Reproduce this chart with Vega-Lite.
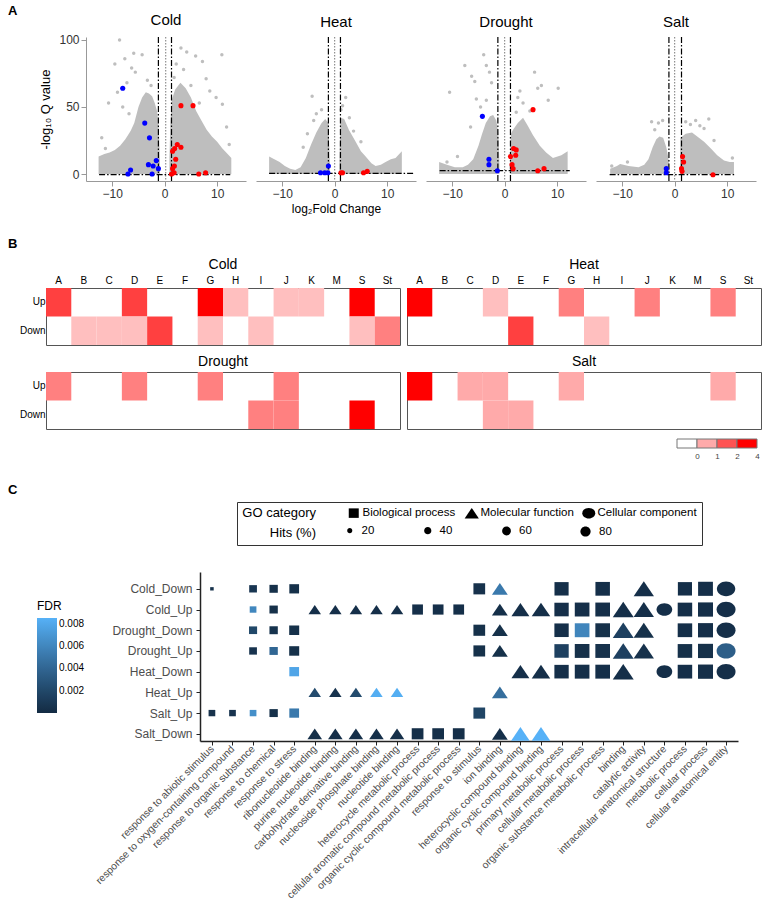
{
"$schema":"https://vega.github.io/schema/vega-lite/v6.json",
"padding":{"left":8,"top":5,"right":5,"bottom":3},
"background":"white",
"config":{"font":"Liberation Sans","view":{"stroke":null},"axis":{"grid":false,"labelFont":"Liberation Sans","titleFont":"Liberation Sans"},"title":{"font":"Liberation Sans","fontWeight":"normal","color":"#000"},"legend":{"labelFont":"Liberation Sans","titleFont":"Liberation Sans"}},
"spacing":24,
"resolve":{"scale":{"color":"independent","size":"independent","shape":"independent"}},
"vconcat":[
{
"spacing":10,
"hconcat":[
{"width":21,"height":1,"title":{"text":"A","anchor":"start","frame":"group","fontSize":13,"fontWeight":"bold","offset":19},"data":{"values":[]},"mark":"point","encoding":{}},
{
"title":{"text":"Cold","fontSize":15,"offset":6},
"width":160,"height":144,
"data":{"values":[
{"k":"c","s":"L","x":-12.6,"y":13},{"k":"c","s":"L","x":-11.5,"y":15},{"k":"c","s":"L","x":-10.5,"y":16},{"k":"c","s":"L","x":-9.5,"y":18},{"k":"c","s":"L","x":-8.5,"y":21},{"k":"c","s":"L","x":-7.5,"y":26},{"k":"c","s":"L","x":-6.5,"y":32},{"k":"c","s":"L","x":-5.8,"y":38},{"k":"c","s":"L","x":-5,"y":50},{"k":"c","s":"L","x":-4.3,"y":57},{"k":"c","s":"L","x":-3.6,"y":61},{"k":"c","s":"L","x":-3,"y":60},{"k":"c","s":"L","x":-2.4,"y":58},{"k":"c","s":"L","x":-1.9,"y":53},{"k":"c","s":"L","x":-1.4,"y":46},{"k":"c","s":"L","x":-1.1,"y":32},{"k":"c","s":"L","x":-0.9,"y":10},
{"k":"c","s":"R","x":0.9,"y":12},{"k":"c","s":"R","x":1.1,"y":40},{"k":"c","s":"R","x":1.4,"y":56},{"k":"c","s":"R","x":2,"y":63},{"k":"c","s":"R","x":3,"y":68},{"k":"c","s":"R","x":4,"y":64},{"k":"c","s":"R","x":5,"y":57},{"k":"c","s":"R","x":6,"y":47},{"k":"c","s":"R","x":7,"y":40},{"k":"c","s":"R","x":8,"y":33},{"k":"c","s":"R","x":9,"y":28},{"k":"c","s":"R","x":10,"y":24},{"k":"c","s":"R","x":11,"y":19},{"k":"c","s":"R","x":12,"y":15},{"k":"c","s":"R","x":12.7,"y":12},
{"k":"g","x":-9.5,"y":82},{"k":"g","x":-8.6,"y":100},{"k":"g","x":-7.6,"y":86},{"k":"g","x":-5.9,"y":90},{"k":"g","x":-4.3,"y":89},{"k":"g","x":-6.3,"y":79},{"k":"g","x":-5.6,"y":76},{"k":"g","x":-7.2,"y":68},{"k":"g","x":-9,"y":61},{"k":"g","x":-10.7,"y":53},{"k":"g","x":-12,"y":27},{"k":"g","x":-11.3,"y":19},{"k":"g","x":-8,"y":50},{"k":"g","x":-6.8,"y":45},{"k":"g","x":-2.6,"y":66},{"k":"g","x":-3.3,"y":70},{"k":"g","x":3.1,"y":94},{"k":"g","x":4.2,"y":91},{"k":"g","x":5.9,"y":88},{"k":"g","x":7.2,"y":84},{"k":"g","x":10.9,"y":89},{"k":"g","x":7.9,"y":71},{"k":"g","x":9.8,"y":57},{"k":"g","x":11,"y":52},{"k":"g","x":5,"y":66},{"k":"g","x":6.6,"y":53},{"k":"g","x":2.2,"y":82},{"k":"g","x":3.6,"y":78},{"k":"g","x":1.8,"y":72},{"k":"g","x":8.6,"y":62},{"k":"g","x":11.8,"y":35},{"k":"g","x":12.3,"y":22},
{"k":"d","x":-8,"y":64},{"k":"d","x":-3.8,"y":38},{"k":"d","x":-2.9,"y":27},{"k":"d","x":-3.1,"y":7},{"k":"d","x":-2.2,"y":6},{"k":"d","x":-1.6,"y":10},{"k":"d","x":-1.2,"y":4},{"k":"d","x":-6.5,"y":3},{"k":"d","x":-7,"y":0},{"k":"d","x":-2.4,"y":0},
{"k":"u","x":3.1,"y":51},{"k":"u","x":5.4,"y":51},{"k":"u","x":2.4,"y":22},{"k":"u","x":3.1,"y":20},{"k":"u","x":1.9,"y":19},{"k":"u","x":1.5,"y":17},{"k":"u","x":2.1,"y":11},{"k":"u","x":1.85,"y":6},{"k":"u","x":1.5,"y":4},{"k":"u","x":1.8,"y":1},{"k":"u","x":1.3,"y":0},{"k":"u","x":6.5,"y":0},{"k":"u","x":7.8,"y":1}
]},
"layer":[
{"transform":[{"filter":"datum.k=='c'"}],"mark":{"type":"area","color":"#BEBEBE"},"encoding":{"x":{"field":"x","type":"quantitative","scale":{"domain":[-15,15.5],"nice":false,"zero":false},"axis":{"values":[-10,-5,0,5,10],"title":null,"labelFontSize":12,"labelColor":"#333","domainColor":"#999","tickColor":"#999","tickSize":5,"labelPadding":2}},"y":{"field":"y","type":"quantitative","scale":{"domain":[-5.2,102.2],"nice":false,"zero":false},"axis":{"values":[0,50,100],"title":"-log₁₀ Q value","titleFontSize":13,"titleFontWeight":"normal","labelFontSize":12,"labelColor":"#333","domainColor":"#999","tickColor":"#999","tickSize":5,"titlePadding":6}},"y2":{"datum":0},"detail":{"field":"s"}}},
{"transform":[{"filter":"datum.k=='g'"}],"mark":{"type":"circle","color":"#BEBEBE","size":12,"opacity":1},"encoding":{"x":{"field":"x","type":"quantitative","scale":{"domain":[-15,15.5],"nice":false,"zero":false},"axis":{"values":[-10,-5,0,5,10],"title":null,"labelFontSize":12,"labelColor":"#333","domainColor":"#999","tickColor":"#999","tickSize":5,"labelPadding":2}},"y":{"field":"y","type":"quantitative","scale":{"domain":[-5.2,102.2],"nice":false,"zero":false},"axis":{"values":[0,50,100],"title":"-log₁₀ Q value","titleFontSize":13,"titleFontWeight":"normal","labelFontSize":12,"labelColor":"#333","domainColor":"#999","tickColor":"#999","tickSize":5,"titlePadding":6}}}},
{"data":{"values":[{"v":-1.2},{"v":1.3}]},"mark":{"type":"rule","color":"#000","strokeWidth":1.2,"strokeDash":[6,2,1.5,2]},"encoding":{"x":{"field":"v","type":"quantitative"}}},
{"data":{"values":[{"v":0.2}]},"mark":{"type":"rule","color":"#777","strokeWidth":1,"strokeDash":[1.5,1.5]},"encoding":{"x":{"field":"v","type":"quantitative"}}},
{"data":{"values":[{"a":-12.5,"b":12.5,"t":-0.5}]},"mark":{"type":"rule","color":"#000","strokeWidth":1.2,"strokeDash":[6,2,1.5,2]},"encoding":{"x":{"field":"a","type":"quantitative"},"x2":{"field":"b"},"y":{"field":"t","type":"quantitative"}}},
{"transform":[{"filter":"datum.k=='d'"}],"mark":{"type":"circle","color":"#0000FF","size":26,"opacity":1},"encoding":{"x":{"field":"x","type":"quantitative"},"y":{"field":"y","type":"quantitative"}}},
{"transform":[{"filter":"datum.k=='u'"}],"mark":{"type":"circle","color":"#FF0000","size":26,"opacity":1},"encoding":{"x":{"field":"x","type":"quantitative"},"y":{"field":"y","type":"quantitative"}}}
]
},
{
"title":{"text":"Heat","fontSize":15,"offset":6},
"width":160,"height":144,
"data":{"values":[
{"k":"c","s":"L","x":-12.5,"y":13},{"k":"c","s":"L","x":-11.5,"y":11},{"k":"c","s":"L","x":-10.5,"y":9},{"k":"c","s":"L","x":-9.5,"y":6},{"k":"c","s":"L","x":-8.5,"y":4},{"k":"c","s":"L","x":-7.5,"y":3},{"k":"c","s":"L","x":-6.5,"y":5},{"k":"c","s":"L","x":-5.5,"y":12},{"k":"c","s":"L","x":-4.5,"y":22},{"k":"c","s":"L","x":-3.5,"y":31},{"k":"c","s":"L","x":-2.5,"y":38},{"k":"c","s":"L","x":-1.8,"y":41},{"k":"c","s":"L","x":-1.2,"y":38},{"k":"c","s":"L","x":-0.9,"y":8},
{"k":"c","s":"R","x":0.9,"y":10},{"k":"c","s":"R","x":1.1,"y":42},{"k":"c","s":"R","x":1.8,"y":41},{"k":"c","s":"R","x":2.7,"y":33},{"k":"c","s":"R","x":4,"y":24},{"k":"c","s":"R","x":5,"y":17},{"k":"c","s":"R","x":5.9,"y":13},{"k":"c","s":"R","x":7,"y":8},{"k":"c","s":"R","x":7.8,"y":6},{"k":"c","s":"R","x":8.8,"y":7},{"k":"c","s":"R","x":9.7,"y":9},{"k":"c","s":"R","x":10.7,"y":11},{"k":"c","s":"R","x":11.6,"y":12},{"k":"c","s":"R","x":12.8,"y":17},
{"k":"g","x":-4.3,"y":58},{"k":"g","x":-3.5,"y":45},{"k":"g","x":-2.5,"y":48},{"k":"g","x":-4,"y":40},{"k":"g","x":1.5,"y":51},{"k":"g","x":2.1,"y":57},{"k":"g","x":2.8,"y":42},{"k":"g","x":1.2,"y":48},{"k":"g","x":-5.2,"y":30},{"k":"g","x":3.6,"y":32},{"k":"g","x":-6,"y":20},{"k":"g","x":5,"y":24},
{"k":"d","x":-2.7,"y":1},{"k":"d","x":-1.9,"y":1},{"k":"d","x":-1.2,"y":6},{"k":"d","x":-1.3,"y":1},
{"k":"u","x":1.2,"y":1},{"k":"u","x":1.5,"y":1},{"k":"u","x":5.5,"y":1},{"k":"u","x":6.2,"y":2}
]},
"layer":[
{"transform":[{"filter":"datum.k=='c'"}],"mark":{"type":"area","color":"#BEBEBE"},"encoding":{"x":{"field":"x","type":"quantitative","scale":{"domain":[-15,15.5],"nice":false,"zero":false},"axis":{"values":[-10,-5,0,5,10],"title":"log₂Fold Change","titleFontSize":12,"titleFontWeight":"normal","titlePadding":4,"labelFontSize":12,"labelColor":"#333","domainColor":"#999","tickColor":"#999","tickSize":5,"labelPadding":2}},"y":{"field":"y","type":"quantitative","scale":{"domain":[-5.2,102.2],"nice":false,"zero":false},"axis":null},"y2":{"datum":0},"detail":{"field":"s"}}},
{"transform":[{"filter":"datum.k=='g'"}],"mark":{"type":"circle","color":"#BEBEBE","size":12,"opacity":1},"encoding":{"x":{"field":"x","type":"quantitative","scale":{"domain":[-15,15.5],"nice":false,"zero":false},"axis":{"values":[-10,-5,0,5,10],"title":"log₂Fold Change","titleFontSize":12,"titleFontWeight":"normal","titlePadding":4,"labelFontSize":12,"labelColor":"#333","domainColor":"#999","tickColor":"#999","tickSize":5,"labelPadding":2}},"y":{"field":"y","type":"quantitative","axis":null}}},
{"data":{"values":[{"v":-1.2},{"v":1.1}]},"mark":{"type":"rule","color":"#000","strokeWidth":1.2,"strokeDash":[6,2,1.5,2]},"encoding":{"x":{"field":"v","type":"quantitative"}}},
{"data":{"values":[{"v":0}]},"mark":{"type":"rule","color":"#777","strokeWidth":1,"strokeDash":[1.5,1.5]},"encoding":{"x":{"field":"v","type":"quantitative"}}},
{"data":{"values":[{"a":-12.5,"b":15,"t":0.5}]},"mark":{"type":"rule","color":"#000","strokeWidth":1.2,"strokeDash":[6,2,1.5,2]},"encoding":{"x":{"field":"a","type":"quantitative"},"x2":{"field":"b"},"y":{"field":"t","type":"quantitative","axis":null}}},
{"transform":[{"filter":"datum.k=='d'"}],"mark":{"type":"circle","color":"#0000FF","size":26,"opacity":1},"encoding":{"x":{"field":"x","type":"quantitative"},"y":{"field":"y","type":"quantitative","axis":null}}},
{"transform":[{"filter":"datum.k=='u'"}],"mark":{"type":"circle","color":"#FF0000","size":26,"opacity":1},"encoding":{"x":{"field":"x","type":"quantitative"},"y":{"field":"y","type":"quantitative","axis":null}}}
]
},
{
"title":{"text":"Drought","fontSize":15,"offset":6},
"width":160,"height":144,
"data":{"values":[
{"k":"c","s":"L","x":-12.5,"y":9},{"k":"c","s":"L","x":-11,"y":7},{"k":"c","s":"L","x":-9.5,"y":5},{"k":"c","s":"L","x":-8,"y":5},{"k":"c","s":"L","x":-7,"y":7},{"k":"c","s":"L","x":-6,"y":11},{"k":"c","s":"L","x":-5,"y":21},{"k":"c","s":"L","x":-4.3,"y":30},{"k":"c","s":"L","x":-3.6,"y":38},{"k":"c","s":"L","x":-2.8,"y":43},{"k":"c","s":"L","x":-2.2,"y":44},{"k":"c","s":"L","x":-1.6,"y":40},{"k":"c","s":"L","x":-1.2,"y":30},{"k":"c","s":"L","x":-1,"y":8},
{"k":"c","s":"R","x":1,"y":10},{"k":"c","s":"R","x":1.2,"y":30},{"k":"c","s":"R","x":1.6,"y":33},{"k":"c","s":"R","x":2.5,"y":38},{"k":"c","s":"R","x":3.5,"y":42},{"k":"c","s":"R","x":4.4,"y":36},{"k":"c","s":"R","x":5.4,"y":29},{"k":"c","s":"R","x":6.7,"y":21},{"k":"c","s":"R","x":7.9,"y":16},{"k":"c","s":"R","x":9.2,"y":12},{"k":"c","s":"R","x":10.8,"y":14},{"k":"c","s":"R","x":12,"y":17},
{"k":"g","x":-4,"y":89},{"k":"g","x":-3.5,"y":81},{"k":"g","x":-7.6,"y":81},{"k":"g","x":-6.3,"y":73},{"k":"g","x":-5.7,"y":69},{"k":"g","x":-10.5,"y":61},{"k":"g","x":-2.9,"y":76},{"k":"g","x":-2.5,"y":68},{"k":"g","x":5.7,"y":76},{"k":"g","x":7,"y":66},{"k":"g","x":6.3,"y":64},{"k":"g","x":10.2,"y":64},{"k":"g","x":8.3,"y":55},{"k":"g","x":2.9,"y":62},{"k":"g","x":3.5,"y":53},{"k":"g","x":2.5,"y":57},{"k":"g","x":2.2,"y":46},{"k":"g","x":-5.4,"y":56},{"k":"g","x":-3.5,"y":55},{"k":"g","x":-4.6,"y":50},{"k":"g","x":4.8,"y":47},{"k":"g","x":-6.5,"y":35},{"k":"g","x":-9,"y":13},{"k":"g","x":-11,"y":9},
{"k":"d","x":-4.25,"y":43},{"k":"d","x":-3,"y":11},{"k":"d","x":-3,"y":7},{"k":"d","x":-1.4,"y":2.5},
{"k":"u","x":5.4,"y":48},{"k":"u","x":1.7,"y":19},{"k":"u","x":2.2,"y":18},{"k":"u","x":2.1,"y":14},{"k":"u","x":1.1,"y":13},{"k":"u","x":1.4,"y":7},{"k":"u","x":1.6,"y":4},{"k":"u","x":6.3,"y":2.5},{"k":"u","x":7.5,"y":4}
]},
"layer":[
{"transform":[{"filter":"datum.k=='c'"}],"mark":{"type":"area","color":"#BEBEBE"},"encoding":{"x":{"field":"x","type":"quantitative","scale":{"domain":[-15,15.5],"nice":false,"zero":false},"axis":{"values":[-10,-5,0,5,10],"title":null,"labelFontSize":12,"labelColor":"#333","domainColor":"#999","tickColor":"#999","tickSize":5,"labelPadding":2}},"y":{"field":"y","type":"quantitative","scale":{"domain":[-5.2,102.2],"nice":false,"zero":false},"axis":null},"y2":{"datum":0},"detail":{"field":"s"}}},
{"transform":[{"filter":"datum.k=='g'"}],"mark":{"type":"circle","color":"#BEBEBE","size":12,"opacity":1},"encoding":{"x":{"field":"x","type":"quantitative","axis":{"values":[-10,-5,0,5,10],"title":null,"labelFontSize":12,"labelColor":"#333","domainColor":"#999","tickColor":"#999","tickSize":5,"labelPadding":2}},"y":{"field":"y","type":"quantitative","axis":null}}},
{"data":{"values":[{"v":-1.3},{"v":1.1}]},"mark":{"type":"rule","color":"#000","strokeWidth":1.2,"strokeDash":[6,2,1.5,2]},"encoding":{"x":{"field":"v","type":"quantitative"}}},
{"data":{"values":[{"v":0}]},"mark":{"type":"rule","color":"#777","strokeWidth":1,"strokeDash":[1.5,1.5]},"encoding":{"x":{"field":"v","type":"quantitative"}}},
{"data":{"values":[{"a":-12.4,"b":12.4,"t":2.5}]},"mark":{"type":"rule","color":"#000","strokeWidth":1.2,"strokeDash":[6,2,1.5,2]},"encoding":{"x":{"field":"a","type":"quantitative"},"x2":{"field":"b"},"y":{"field":"t","type":"quantitative","axis":null}}},
{"transform":[{"filter":"datum.k=='d'"}],"mark":{"type":"circle","color":"#0000FF","size":26,"opacity":1},"encoding":{"x":{"field":"x","type":"quantitative"},"y":{"field":"y","type":"quantitative","axis":null}}},
{"transform":[{"filter":"datum.k=='u'"}],"mark":{"type":"circle","color":"#FF0000","size":26,"opacity":1},"encoding":{"x":{"field":"x","type":"quantitative"},"y":{"field":"y","type":"quantitative","axis":null}}}
]
},
{
"title":{"text":"Salt","fontSize":15,"offset":6},
"width":160,"height":144,
"data":{"values":[
{"k":"c","s":"L","x":-12.3,"y":4},{"k":"c","s":"L","x":-11,"y":6},{"k":"c","s":"L","x":-10.4,"y":7.5},{"k":"c","s":"L","x":-8.8,"y":6},{"k":"c","s":"L","x":-6.9,"y":5},{"k":"c","s":"L","x":-5.8,"y":7},{"k":"c","s":"L","x":-5,"y":11},{"k":"c","s":"L","x":-4.2,"y":20},{"k":"c","s":"L","x":-3.5,"y":26},{"k":"c","s":"L","x":-2.9,"y":28},{"k":"c","s":"L","x":-2.2,"y":27},{"k":"c","s":"L","x":-1.6,"y":20},{"k":"c","s":"L","x":-1.2,"y":12},{"k":"c","s":"L","x":-1,"y":3},
{"k":"c","s":"R","x":1,"y":5},{"k":"c","s":"R","x":1.1,"y":27},{"k":"c","s":"R","x":2.1,"y":30},{"k":"c","s":"R","x":3.3,"y":31},{"k":"c","s":"R","x":4.3,"y":28},{"k":"c","s":"R","x":5.6,"y":24},{"k":"c","s":"R","x":6.9,"y":19},{"k":"c","s":"R","x":8.1,"y":14},{"k":"c","s":"R","x":9.4,"y":10},{"k":"c","s":"R","x":10.5,"y":9},{"k":"c","s":"R","x":11.3,"y":9},
{"k":"g","x":-4.4,"y":39},{"k":"g","x":-3.1,"y":38},{"k":"g","x":-2.3,"y":40},{"k":"g","x":-3.8,"y":33},{"k":"g","x":2.1,"y":39},{"k":"g","x":3,"y":37},{"k":"g","x":4,"y":40},{"k":"g","x":6.5,"y":41},{"k":"g","x":5.6,"y":34},{"k":"g","x":4.8,"y":36},{"k":"g","x":7.5,"y":25},{"k":"g","x":-9,"y":9},{"k":"g","x":-12,"y":6},{"k":"g","x":11,"y":12},
{"k":"d","x":-1.6,"y":4},{"k":"d","x":-1.6,"y":1},
{"k":"u","x":1.5,"y":13},{"k":"u","x":1.7,"y":9},{"k":"u","x":1.3,"y":4},{"k":"u","x":1.4,"y":2},{"k":"u","x":7.3,"y":-0.5}
]},
"layer":[
{"transform":[{"filter":"datum.k=='c'"}],"mark":{"type":"area","color":"#BEBEBE"},"encoding":{"x":{"field":"x","type":"quantitative","scale":{"domain":[-15,15.5],"nice":false,"zero":false},"axis":{"values":[-10,-5,0,5,10],"title":null,"labelFontSize":12,"labelColor":"#333","domainColor":"#999","tickColor":"#999","tickSize":5,"labelPadding":2}},"y":{"field":"y","type":"quantitative","scale":{"domain":[-5.2,102.2],"nice":false,"zero":false},"axis":null},"y2":{"datum":0},"detail":{"field":"s"}}},
{"transform":[{"filter":"datum.k=='g'"}],"mark":{"type":"circle","color":"#BEBEBE","size":12,"opacity":1},"encoding":{"x":{"field":"x","type":"quantitative","axis":{"values":[-10,-5,0,5,10],"title":null,"labelFontSize":12,"labelColor":"#333","domainColor":"#999","tickColor":"#999","tickSize":5,"labelPadding":2}},"y":{"field":"y","type":"quantitative","axis":null}}},
{"data":{"values":[{"v":-1.1},{"v":1.3}]},"mark":{"type":"rule","color":"#000","strokeWidth":1.2,"strokeDash":[6,2,1.5,2]},"encoding":{"x":{"field":"v","type":"quantitative"}}},
{"data":{"values":[{"v":0}]},"mark":{"type":"rule","color":"#777","strokeWidth":1,"strokeDash":[1.5,1.5]},"encoding":{"x":{"field":"v","type":"quantitative"}}},
{"data":{"values":[{"a":-12.4,"b":11.7,"t":-0.5}]},"mark":{"type":"rule","color":"#000","strokeWidth":1.2,"strokeDash":[6,2,1.5,2]},"encoding":{"x":{"field":"a","type":"quantitative"},"x2":{"field":"b"},"y":{"field":"t","type":"quantitative","axis":null}}},
{"transform":[{"filter":"datum.k=='d'"}],"mark":{"type":"circle","color":"#0000FF","size":26,"opacity":1},"encoding":{"x":{"field":"x","type":"quantitative"},"y":{"field":"y","type":"quantitative","axis":null}}},
{"transform":[{"filter":"datum.k=='u'"}],"mark":{"type":"circle","color":"#FF0000","size":26,"opacity":1},"encoding":{"x":{"field":"x","type":"quantitative"},"y":{"field":"y","type":"quantitative","axis":null}}}
]
}
]
},
{
"spacing":0,
"hconcat":[
{"width":1,"height":1,"title":{"text":"B","anchor":"start","frame":"group","fontSize":13,"fontWeight":"bold","offset":37},"data":{"values":[]},"mark":"point","encoding":{}},
{"spacing":8,
"vconcat":[
{"spacing":5,"hconcat":[
{"title":{"text":"Cold","fontSize":14,"offset":3},"width":354,"height":57,"view":{"stroke":"#555","strokeWidth":1},
"data":{"values":[{"cls":"A","dir":"Up","v":3},{"cls":"D","dir":"Up","v":3},{"cls":"G","dir":"Up","v":4},{"cls":"H","dir":"Up","v":1},{"cls":"J","dir":"Up","v":1},{"cls":"K","dir":"Up","v":1},{"cls":"S","dir":"Up","v":4},{"cls":"B","dir":"Down","v":1},{"cls":"C","dir":"Down","v":1},{"cls":"D","dir":"Down","v":1},{"cls":"E","dir":"Down","v":3},{"cls":"G","dir":"Down","v":1},{"cls":"I","dir":"Down","v":1},{"cls":"S","dir":"Down","v":1},{"cls":"St","dir":"Down","v":2}]},
"mark":{"type":"rect"},
"encoding":{"x":{"field":"cls","type":"nominal","scale":{"domain":["A","B","C","D","E","F","G","H","I","J","K","M","S","St"],"paddingInner":0,"paddingOuter":0},"axis":{"orient":"top","title":null,"labelAngle":0,"ticks":false,"domain":false,"labelFontSize":10,"labelColor":"#000","labelPadding":3}},
"y":{"field":"dir","type":"nominal","scale":{"domain":["Up","Down"],"paddingInner":0,"paddingOuter":0},"axis":{"title":null,"ticks":false,"domain":false,"labelFontSize":10,"labelColor":"#000","labelPadding":1}},
"color":{"field":"v","type":"quantitative","scale":{"domain":[0,4],"range":["#FFFFFF","#FF0000"],"interpolate":"rgb","nice":false,"zero":false},"legend":null}}},
{"title":{"text":"Heat","fontSize":14,"offset":3},"width":354,"height":57,"view":{"stroke":"#555","strokeWidth":1},
"data":{"values":[{"cls":"A","dir":"Up","v":4},{"cls":"D","dir":"Up","v":1},{"cls":"G","dir":"Up","v":2},{"cls":"J","dir":"Up","v":2},{"cls":"S","dir":"Up","v":2},{"cls":"E","dir":"Down","v":3},{"cls":"H","dir":"Down","v":1}]},
"mark":{"type":"rect"},
"encoding":{"x":{"field":"cls","type":"nominal","scale":{"domain":["A","B","C","D","E","F","G","H","I","J","K","M","S","St"],"paddingInner":0,"paddingOuter":0},"axis":{"orient":"top","title":null,"labelAngle":0,"ticks":false,"domain":false,"labelFontSize":10,"labelColor":"#000","labelPadding":3}},
"y":{"field":"dir","type":"nominal","scale":{"domain":["Up","Down"],"paddingInner":0,"paddingOuter":0},"axis":null},
"color":{"field":"v","type":"quantitative","scale":{"domain":[0,4],"range":["#FFFFFF","#FF0000"],"interpolate":"rgb","nice":false,"zero":false},"legend":null}}}
]},
{"spacing":5,"hconcat":[
{"title":{"text":"Drought","fontSize":14,"offset":3},"width":354,"height":57,"view":{"stroke":"#555","strokeWidth":1},
"data":{"values":[{"cls":"A","dir":"Up","v":2},{"cls":"D","dir":"Up","v":2},{"cls":"G","dir":"Up","v":2},{"cls":"J","dir":"Up","v":2},{"cls":"I","dir":"Down","v":2},{"cls":"J","dir":"Down","v":2},{"cls":"S","dir":"Down","v":4}]},
"mark":{"type":"rect"},
"encoding":{"x":{"field":"cls","type":"nominal","scale":{"domain":["A","B","C","D","E","F","G","H","I","J","K","M","S","St"],"paddingInner":0,"paddingOuter":0},"axis":null},
"y":{"field":"dir","type":"nominal","scale":{"domain":["Up","Down"],"paddingInner":0,"paddingOuter":0},"axis":{"title":null,"ticks":false,"domain":false,"labelFontSize":10,"labelColor":"#000","labelPadding":1}},
"color":{"field":"v","type":"quantitative","scale":{"domain":[0,4],"range":["#FFFFFF","#FF0000"],"interpolate":"rgb","nice":false,"zero":false},"legend":null}}},
{"spacing":8,"vconcat":[
{"title":{"text":"Salt","fontSize":14,"offset":3},"width":354,"height":57,"view":{"stroke":"#555","strokeWidth":1},
"data":{"values":[{"cls":"A","dir":"Up","v":4},{"cls":"C","dir":"Up","v":1.33},{"cls":"D","dir":"Up","v":1.33},{"cls":"G","dir":"Up","v":1.33},{"cls":"S","dir":"Up","v":1.33},{"cls":"D","dir":"Down","v":1.33},{"cls":"E","dir":"Down","v":1.33}]},
"mark":{"type":"rect"},
"encoding":{"x":{"field":"cls","type":"nominal","scale":{"domain":["A","B","C","D","E","F","G","H","I","J","K","M","S","St"],"paddingInner":0,"paddingOuter":0},"axis":null},
"y":{"field":"dir","type":"nominal","scale":{"domain":["Up","Down"],"paddingInner":0,"paddingOuter":0},"axis":null},
"color":{"field":"v","type":"quantitative","scale":{"domain":[0,4],"range":["#FFFFFF","#FF0000"],"interpolate":"rgb","nice":false,"zero":false},"legend":null}}},
{"width":354,"height":9,"view":{"stroke":null},
"data":{"values":[{"lo":0,"hi":1,"v":0},{"lo":1,"hi":2,"v":1.33},{"lo":2,"hi":3,"v":2.7},{"lo":3,"hi":4,"v":4}]},
"mark":{"type":"rect","stroke":"#777","strokeWidth":1},
"encoding":{"x":{"field":"lo","type":"quantitative","scale":{"domain":[-13.5,4.2],"nice":false,"zero":false},"axis":{"values":[1,2,3,4],"labelExpr":"datum.value == 4 ? '4' : format(datum.value - 1, 'd')","title":null,"domain":false,"ticks":false,"labelFontSize":8,"labelColor":"#444","labelPadding":4}},
"x2":{"field":"hi"},
"color":{"field":"v","type":"quantitative","scale":{"domain":[0,4],"range":["#FFFFFF","#FF0000"],"interpolate":"rgb","nice":false,"zero":false},"legend":null}}}
]}
]}
]}
]
},
{
"spacing":10,
"hconcat":[
{"width":75,"height":1,"title":{"text":"C","anchor":"start","frame":"group","fontSize":13,"fontWeight":"bold","offset":75},"data":{"values":[]},"mark":"point","encoding":{}},
{
"width":538,"height":169,
"data":{"values":[
{"g":"Cold_Down","t":"response to abiotic stimulus","c":"Biological process","h":5,"f":0.0005},
{"g":"Cold_Down","t":"response to organic substance","c":"Biological process","h":24,"f":0.0008},
{"g":"Cold_Down","t":"response to chemical","c":"Biological process","h":28,"f":0.0004},
{"g":"Cold_Down","t":"response to stress","c":"Biological process","h":38,"f":0.0004},
{"g":"Cold_Down","t":"response to stimulus","c":"Biological process","h":55,"f":0.0005},
{"g":"Cold_Down","t":"ion binding","c":"Molecular function","h":50,"f":0.0052},
{"g":"Cold_Down","t":"primary metabolic process","c":"Biological process","h":80,"f":0.0003},
{"g":"Cold_Down","t":"organic substance metabolic process","c":"Biological process","h":84,"f":0.0003},
{"g":"Cold_Down","t":"catalytic activity","c":"Molecular function","h":82,"f":0.0003},
{"g":"Cold_Down","t":"metabolic process","c":"Biological process","h":80,"f":0.0003},
{"g":"Cold_Down","t":"cellular process","c":"Biological process","h":88,"f":0.0003},
{"g":"Cold_Down","t":"cellular anatomical entity","c":"Cellular component","h":80,"f":0.0003},
{"g":"Cold_Up","t":"response to organic substance","c":"Biological process","h":18,"f":0.006},
{"g":"Cold_Up","t":"response to chemical","c":"Biological process","h":28,"f":0.0004},
{"g":"Cold_Up","t":"ribonucleotide binding","c":"Molecular function","h":31,"f":0.0003},
{"g":"Cold_Up","t":"purine nucleotide binding","c":"Molecular function","h":31,"f":0.0003},
{"g":"Cold_Up","t":"carbohydrate derivative binding","c":"Molecular function","h":31,"f":0.0003},
{"g":"Cold_Up","t":"nucleoside phosphate binding","c":"Molecular function","h":31,"f":0.0003},
{"g":"Cold_Up","t":"nucleotide binding","c":"Molecular function","h":31,"f":0.0003},
{"g":"Cold_Up","t":"heterocycle metabolic process","c":"Biological process","h":46,"f":0.0003},
{"g":"Cold_Up","t":"cellular aromatic compound metabolic process","c":"Biological process","h":46,"f":0.0003},
{"g":"Cold_Up","t":"organic cyclic compound metabolic process","c":"Biological process","h":46,"f":0.0003},
{"g":"Cold_Up","t":"ion binding","c":"Molecular function","h":50,"f":0.0003},
{"g":"Cold_Up","t":"heterocyclic compound binding","c":"Molecular function","h":64,"f":0.0003},
{"g":"Cold_Up","t":"organic cyclic compound binding","c":"Molecular function","h":68,"f":0.0003},
{"g":"Cold_Up","t":"primary metabolic process","c":"Biological process","h":82,"f":0.0003},
{"g":"Cold_Up","t":"cellular metabolic process","c":"Biological process","h":86,"f":0.0003},
{"g":"Cold_Up","t":"organic substance metabolic process","c":"Biological process","h":86,"f":0.0003},
{"g":"Cold_Up","t":"binding","c":"Molecular function","h":87,"f":0.0003},
{"g":"Cold_Up","t":"catalytic activity","c":"Molecular function","h":82,"f":0.0003},
{"g":"Cold_Up","t":"intracellular anatomical structure","c":"Cellular component","h":58,"f":0.0003},
{"g":"Cold_Up","t":"metabolic process","c":"Biological process","h":84,"f":0.0003},
{"g":"Cold_Up","t":"cellular process","c":"Biological process","h":90,"f":0.0003},
{"g":"Cold_Up","t":"cellular anatomical entity","c":"Cellular component","h":85,"f":0.0003},
{"g":"Drought_Down","t":"response to organic substance","c":"Biological process","h":26,"f":0.002},
{"g":"Drought_Down","t":"response to chemical","c":"Biological process","h":28,"f":0.0006},
{"g":"Drought_Down","t":"response to stress","c":"Biological process","h":40,"f":0.0004},
{"g":"Drought_Down","t":"response to stimulus","c":"Biological process","h":55,"f":0.0004},
{"g":"Drought_Down","t":"ion binding","c":"Molecular function","h":50,"f":0.0004},
{"g":"Drought_Down","t":"primary metabolic process","c":"Biological process","h":82,"f":0.0003},
{"g":"Drought_Down","t":"cellular metabolic process","c":"Biological process","h":86,"f":0.0059},
{"g":"Drought_Down","t":"organic substance metabolic process","c":"Biological process","h":86,"f":0.0004},
{"g":"Drought_Down","t":"binding","c":"Molecular function","h":87,"f":0.0015},
{"g":"Drought_Down","t":"catalytic activity","c":"Molecular function","h":82,"f":0.0004},
{"g":"Drought_Down","t":"metabolic process","c":"Biological process","h":84,"f":0.0003},
{"g":"Drought_Down","t":"cellular process","c":"Biological process","h":90,"f":0.0003},
{"g":"Drought_Down","t":"cellular anatomical entity","c":"Cellular component","h":85,"f":0.0003},
{"g":"Drought_Up","t":"response to organic substance","c":"Biological process","h":24,"f":0.0006},
{"g":"Drought_Up","t":"response to chemical","c":"Biological process","h":28,"f":0.004},
{"g":"Drought_Up","t":"response to stress","c":"Biological process","h":40,"f":0.0004},
{"g":"Drought_Up","t":"response to stimulus","c":"Biological process","h":55,"f":0.0004},
{"g":"Drought_Up","t":"ion binding","c":"Molecular function","h":50,"f":0.0004},
{"g":"Drought_Up","t":"primary metabolic process","c":"Biological process","h":82,"f":0.0015},
{"g":"Drought_Up","t":"cellular metabolic process","c":"Biological process","h":86,"f":0.0004},
{"g":"Drought_Up","t":"organic substance metabolic process","c":"Biological process","h":86,"f":0.0005},
{"g":"Drought_Up","t":"binding","c":"Molecular function","h":87,"f":0.0015},
{"g":"Drought_Up","t":"catalytic activity","c":"Molecular function","h":82,"f":0.0005},
{"g":"Drought_Up","t":"metabolic process","c":"Biological process","h":84,"f":0.0004},
{"g":"Drought_Up","t":"cellular process","c":"Biological process","h":90,"f":0.0004},
{"g":"Drought_Up","t":"cellular anatomical entity","c":"Cellular component","h":85,"f":0.0035},
{"g":"Heat_Down","t":"response to stress","c":"Biological process","h":38,"f":0.0078},
{"g":"Heat_Down","t":"heterocyclic compound binding","c":"Molecular function","h":64,"f":0.0003},
{"g":"Heat_Down","t":"organic cyclic compound binding","c":"Molecular function","h":68,"f":0.0003},
{"g":"Heat_Down","t":"primary metabolic process","c":"Biological process","h":82,"f":0.0003},
{"g":"Heat_Down","t":"cellular metabolic process","c":"Biological process","h":86,"f":0.0003},
{"g":"Heat_Down","t":"organic substance metabolic process","c":"Biological process","h":86,"f":0.0003},
{"g":"Heat_Down","t":"binding","c":"Molecular function","h":87,"f":0.0003},
{"g":"Heat_Down","t":"intracellular anatomical structure","c":"Cellular component","h":58,"f":0.0003},
{"g":"Heat_Down","t":"metabolic process","c":"Biological process","h":84,"f":0.0003},
{"g":"Heat_Down","t":"cellular process","c":"Biological process","h":90,"f":0.0003},
{"g":"Heat_Down","t":"cellular anatomical entity","c":"Cellular component","h":85,"f":0.0003},
{"g":"Heat_Up","t":"ribonucleotide binding","c":"Molecular function","h":31,"f":0.0022},
{"g":"Heat_Up","t":"purine nucleotide binding","c":"Molecular function","h":31,"f":0.0006},
{"g":"Heat_Up","t":"carbohydrate derivative binding","c":"Molecular function","h":31,"f":0.0022},
{"g":"Heat_Up","t":"nucleoside phosphate binding","c":"Molecular function","h":31,"f":0.0083},
{"g":"Heat_Up","t":"nucleotide binding","c":"Molecular function","h":31,"f":0.0083},
{"g":"Heat_Up","t":"ion binding","c":"Molecular function","h":50,"f":0.0045},
{"g":"Salt_Up","t":"response to abiotic stimulus","c":"Biological process","h":18,"f":0.0005},
{"g":"Salt_Up","t":"response to oxygen-containing compound","c":"Biological process","h":18,"f":0.0006},
{"g":"Salt_Up","t":"response to organic substance","c":"Biological process","h":18,"f":0.0065},
{"g":"Salt_Up","t":"response to chemical","c":"Biological process","h":28,"f":0.0004},
{"g":"Salt_Up","t":"response to stress","c":"Biological process","h":38,"f":0.0052},
{"g":"Salt_Up","t":"response to stimulus","c":"Biological process","h":55,"f":0.0018},
{"g":"Salt_Down","t":"ribonucleotide binding","c":"Molecular function","h":42,"f":0.0003},
{"g":"Salt_Down","t":"purine nucleotide binding","c":"Molecular function","h":42,"f":0.0003},
{"g":"Salt_Down","t":"carbohydrate derivative binding","c":"Molecular function","h":42,"f":0.0003},
{"g":"Salt_Down","t":"nucleoside phosphate binding","c":"Molecular function","h":42,"f":0.0003},
{"g":"Salt_Down","t":"nucleotide binding","c":"Molecular function","h":42,"f":0.0003},
{"g":"Salt_Down","t":"heterocycle metabolic process","c":"Biological process","h":55,"f":0.0003},
{"g":"Salt_Down","t":"cellular aromatic compound metabolic process","c":"Biological process","h":55,"f":0.0003},
{"g":"Salt_Down","t":"organic cyclic compound metabolic process","c":"Biological process","h":55,"f":0.0003},
{"g":"Salt_Down","t":"ion binding","c":"Molecular function","h":50,"f":0.0003},
{"g":"Salt_Down","t":"heterocyclic compound binding","c":"Molecular function","h":68,"f":0.0085},
{"g":"Salt_Down","t":"organic cyclic compound binding","c":"Molecular function","h":68,"f":0.0085}
]},
"mark":{"type":"point","filled":true,"opacity":1},
"encoding":{
"x":{"field":"t","type":"nominal","scale":{"type":"point","padding":0.58,"domain":["response to abiotic stimulus","response to oxygen-containing compound","response to organic substance","response to chemical","response to stress","ribonucleotide binding","purine nucleotide binding","carbohydrate derivative binding","nucleoside phosphate binding","nucleotide binding","heterocycle metabolic process","cellular aromatic compound metabolic process","organic cyclic compound metabolic process","response to stimulus","ion binding","heterocyclic compound binding","organic cyclic compound binding","primary metabolic process","cellular metabolic process","organic substance metabolic process","binding","catalytic activity","intracellular anatomical structure","metabolic process","cellular process","cellular anatomical entity"]},"axis":{"title":null,"labelAngle":-45,"labelAlign":"right","labelBaseline":"middle","labelFontSize":10.3,"labelColor":"#4D4D4D","labelLimit":300,"labelPadding":2,"domainColor":"#222","domainWidth":1.5,"tickColor":"#222","tickSize":4}},
"y":{"field":"g","type":"nominal","scale":{"type":"point","padding":0.58,"align":0.7,"domain":["Cold_Down","Cold_Up","Drought_Down","Drought_Up","Heat_Down","Heat_Up","Salt_Up","Salt_Down"]},"axis":{"title":null,"labelFontSize":12,"labelColor":"#4D4D4D","labelPadding":4,"domainColor":"#222","domainWidth":1.5,"tickColor":"#222","tickSize":4}},
"shape":{"field":"c","type":"nominal","scale":{"domain":["Biological process","Molecular function","Cellular component"],"range":["M-1 -0.95L1 -0.95L1 0.95L-1 0.95Z","M0 -1.05L1.42 1.05L-1.42 1.05Z","M-1.3 0A1.3 1.05 0 1 0 1.3 0A1.3 1.05 0 1 0 -1.3 0Z"]},"legend":{"title":["GO category","Hits (%)"],"titleOrient":"left","titleAlign":"right","titleAnchor":"start","titleBaseline":"top","titleFontSize":13,"titleFontWeight":"normal","titleColor":"#000","titleLineHeight":20,"titlePadding":-42,"direction":"horizontal","orient":"none","legendX":229,"legendY":-70,"strokeColor":"#333","padding":5,"labelFontSize":11.5,"labelColor":"#000","symbolSize":100,"symbolFillColor":"#000","symbolStrokeColor":"#000","symbolStrokeWidth":0,"columnPadding":8,"labelLimit":200,"labelOffset":3}},
"size":{"field":"h","type":"quantitative","scale":{"domain":[0,100],"range":[0,250],"zero":true,"nice":false},"legend":{"title":null,"values":[20,40,60,80],"direction":"horizontal","orient":"none","legendX":336,"legendY":-48,"symbolType":"M-0.72 0A0.72 0.72 0 1 0 0.72 0A0.72 0.72 0 1 0 -0.72 0Z","symbolFillColor":"#000","symbolStrokeWidth":0,"labelFontSize":11.5,"labelColor":"#000","gridAlign":"all","columnPadding":44,"labelOffset":6}},
"color":{"field":"f","type":"quantitative","scale":{"domain":[0,0.0085],"range":["#132B43","#56B1F7"],"interpolate":"lab","nice":false,"zero":false},"legend":{"title":"FDR","titleFontSize":12,"titleFontWeight":"normal","titleColor":"#000","titlePadding":5,"orient":"none","legendX":29,"legendY":29,"direction":"vertical","gradientLength":95,"gradientThickness":20,"values":[0.002,0.004,0.006,0.008],"format":".3f","labelFontSize":10,"labelColor":"#000"}}
}
}
]
}
]
}
